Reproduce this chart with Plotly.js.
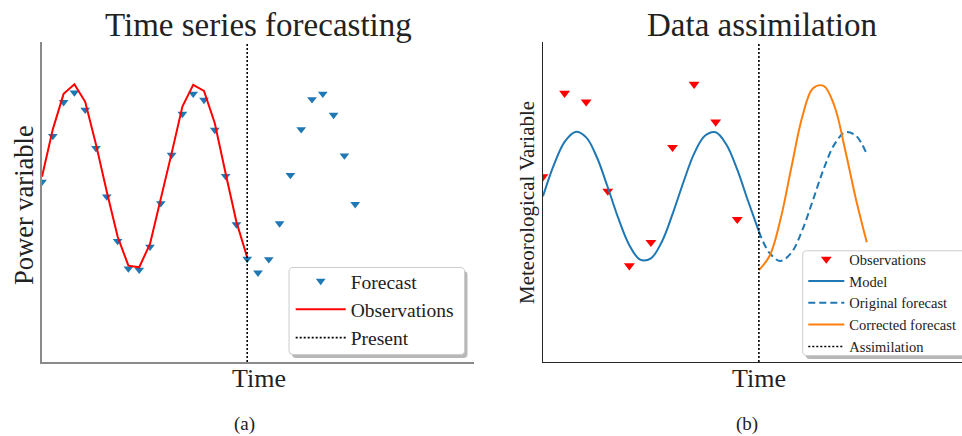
<!DOCTYPE html>
<html>
<head>
<meta charset="utf-8">
<script src="https://cdn.plot.ly/plotly-3.0.1.min.js"></script>
<style>
  html, body { margin: 0; padding: 0; background: #ffffff; overflow: hidden; }
  #chart { width: 962px; height: 436px; }
</style>
</head>
<body>
<div id="chart"></div>
<script>
// ---------- Panel (a): Time series forecasting ----------
const forecastTime = [0, 0.5, 1, 1.5, 2, 2.5, 3, 3.5, 4, 4.5, 5, 5.5, 6, 6.5, 7, 7.5, 8, 8.5, 9, 9.5,
                      10, 10.5, 11, 11.5, 12, 12.5, 13, 13.5, 14, 14.5];
const forecastValues = [5.63, 7.06, 8.12, 8.42, 7.88, 6.68, 5.17, 3.78, 2.92, 2.88,
                        3.60, 4.96, 6.47, 7.75, 8.38, 8.19, 7.25, 5.81, 4.30, 3.22,
                        2.79, 3.21, 4.33, 5.84, 7.27, 8.21, 8.38, 7.72, 6.45, 4.93];
const observationTime = [0, 0.5, 1, 1.5, 2, 2.5, 3, 3.5, 4, 4.5, 5, 5.5, 6, 6.5, 7, 7.5, 8, 8.5, 9, 9.5];
const observationValues = [5.79, 7.27, 8.38, 8.68, 8.13, 6.80, 5.32, 3.92, 3.01, 2.96,
                           3.69, 5.06, 6.52, 7.98, 8.66, 8.47, 7.46, 5.90, 4.38, 3.27];
const presentTime = 9.5;

// ---------- Panel (b): Data assimilation ----------
const metObsTime = [0, 1, 2, 3, 4, 5, 6, 7, 8, 9];
const metObsValues = [5.79, 8.40, 8.13, 5.34, 3.01, 3.74, 6.71, 8.68, 7.50, 4.46];
const modelTime = [0, 0.5, 1, 1.5, 2, 2.5, 3, 3.5, 4, 4.5, 5, 5.5, 6, 6.5, 7, 7.5, 8, 8.5, 9, 9.5, 10];
const modelValues = [5.18, 6.15, 6.88, 7.19, 7.02, 6.39, 5.46, 4.47, 3.65, 3.20, 3.24,
                     3.75, 4.62, 5.61, 6.51, 7.07, 7.18, 6.79, 6.01, 5.03, 4.08];
const forecastRightTime = [10, 10.5, 11, 11.5, 12, 12.5, 13, 13.5, 14, 14.5, 15];
const originalForecast = [4.08, 3.40, 3.16, 3.41, 4.10, 5.05, 6.03, 6.80, 7.18, 7.07, 6.49];
const correctedForecast = [2.87, 3.32, 4.45, 6.06, 7.63, 8.55, 8.63, 8.00, 6.62, 5.08, 3.74];
const assimilationTime = 10;

const yRange = [0, 10];
const leftXRange = [0, 20];
const rightXRange = [0, 19.41];

// ---------- styling ----------
const FONT = 'Liberation Serif, Times New Roman, serif';
const TXT = '#222222';
const BLUE = '#1f77b4';
const ORANGE = '#ff7f0e';
const W = 962, H = 436;
const px = v => v / W;
const py = v => 1 - v / H;
const DOT = '2px,2px';

const traces = [
  { x: forecastTime, y: forecastValues, type: 'scatter', mode: 'markers', name: 'Forecast',
    marker: { symbol: 'triangle-down', size: 8.5, color: BLUE }, xaxis: 'x', yaxis: 'y', legend: 'legend' },
  { x: observationTime, y: observationValues, type: 'scatter', mode: 'lines', name: 'Observations',
    line: { color: '#ff0000', width: 2 }, xaxis: 'x', yaxis: 'y', legend: 'legend' },
  { x: [presentTime, presentTime], y: yRange, type: 'scatter', mode: 'lines', name: 'Present',
    line: { color: '#000000', width: 1.6, dash: DOT }, xaxis: 'x', yaxis: 'y', legend: 'legend' },

  { x: metObsTime, y: metObsValues, type: 'scatter', mode: 'markers', name: 'Observations',
    marker: { symbol: 'triangle-down', size: 9.5, color: '#ff0000' }, xaxis: 'x2', yaxis: 'y2', legend: 'legend2' },
  { x: modelTime, y: modelValues, type: 'scatter', mode: 'lines', name: 'Model',
    line: { color: BLUE, width: 2, shape: 'spline', smoothing: 1 }, xaxis: 'x2', yaxis: 'y2', legend: 'legend2' },
  { x: forecastRightTime, y: originalForecast, type: 'scatter', mode: 'lines', name: 'Original forecast',
    line: { color: BLUE, width: 2, dash: '7px,4px', shape: 'spline', smoothing: 1 }, xaxis: 'x2', yaxis: 'y2', legend: 'legend2' },
  { x: forecastRightTime, y: correctedForecast, type: 'scatter', mode: 'lines', name: 'Corrected forecast',
    line: { color: ORANGE, width: 2, shape: 'spline', smoothing: 1 }, xaxis: 'x2', yaxis: 'y2', legend: 'legend2' },
  { x: [assimilationTime, assimilationTime], y: yRange, type: 'scatter', mode: 'lines', name: 'Assimilation',
    line: { color: '#000000', width: 1.6, dash: DOT }, xaxis: 'x2', yaxis: 'y2', legend: 'legend2' }
];

function axisStyle(color, width) {
  return { showline: true, linecolor: color, linewidth: width, showgrid: false, zeroline: false,
           showticklabels: false, ticks: '', fixedrange: true };
}

function roundRect(x0, y0, x1, y1, r) {
  const X = v => px(v).toFixed(5), Y = v => py(v).toFixed(5);
  return 'M' + X(x0 + r) + ',' + Y(y0) + ' L' + X(x1 - r) + ',' + Y(y0) +
         ' Q' + X(x1) + ',' + Y(y0) + ' ' + X(x1) + ',' + Y(y0 + r) +
         ' L' + X(x1) + ',' + Y(y1 - r) +
         ' Q' + X(x1) + ',' + Y(y1) + ' ' + X(x1 - r) + ',' + Y(y1) +
         ' L' + X(x0 + r) + ',' + Y(y1) +
         ' Q' + X(x0) + ',' + Y(y1) + ' ' + X(x0) + ',' + Y(y1 - r) +
         ' L' + X(x0) + ',' + Y(y0 + r) +
         ' Q' + X(x0) + ',' + Y(y0) + ' ' + X(x0 + r) + ',' + Y(y0) + ' Z';
}

const legendBoxes = [
  { box: [289, 267.5, 464.5, 354.5] },
  { box: [802.7, 250.8, 1010, 355.5] }
];
const shapes = [];
legendBoxes.forEach(b => {
  const [x0, y0, x1, y1] = b.box;
  shapes.push({ type: 'path', xref: 'paper', yref: 'paper', layer: 'above',
                path: roundRect(x0 + 3, y0 + 3.5, x1 + 3, y1 + 3.5, 4),
                fillcolor: 'rgba(0,0,0,0.28)', line: { width: 0 } });
  shapes.push({ type: 'path', xref: 'paper', yref: 'paper', layer: 'above',
                path: roundRect(x0, y0, x1, y1, 4),
                fillcolor: '#ffffff', line: { color: '#cccccc', width: 1 } });
});

const annotations = [
  { text: 'Time series forecasting', x: px(258), y: py(24.9), font: { size: 33 } },
  { text: 'Data assimilation', x: px(761.5), y: py(24.9), font: { size: 33 } },
  { text: 'Time', x: px(258.5), y: py(378.4), font: { size: 26 } },
  { text: 'Time', x: px(759), y: py(378.4), font: { size: 26 } },
  { text: 'Power variable', x: px(24), y: py(205), textangle: -90, font: { size: 26.5 } },
  { text: 'Meteorological Variable', x: px(527.5), y: py(202.5), textangle: -90, font: { size: 21 } },
  { text: '(a)', x: px(244.5), y: py(424), font: { size: 19 } },
  { text: '(b)', x: px(746.7), y: py(424), font: { size: 19 } }
].map(a => Object.assign({ xref: 'paper', yref: 'paper', xanchor: 'center', yanchor: 'middle',
                           showarrow: false }, a, { font: Object.assign({ family: FONT, color: TXT }, a.font) }));

const layout = {
  width: W, height: H,
  margin: { l: 0, r: 0, t: 0, b: 0, pad: 0 },
  paper_bgcolor: '#ffffff', plot_bgcolor: '#ffffff',
  font: { family: FONT, color: TXT },
  showlegend: true,
  xaxis: Object.assign(axisStyle('#8a8a8a', 1.6), { domain: [px(42), px(474)], range: leftXRange, anchor: 'y' }),
  yaxis: Object.assign(axisStyle('#8a8a8a', 1.6), { domain: [py(362), py(42)], range: yRange, anchor: 'x' }),
  xaxis2: Object.assign(axisStyle('#262626', 1.4), { domain: [px(543), 1], range: rightXRange, anchor: 'y2' }),
  yaxis2: Object.assign(axisStyle('#262626', 1.4), { domain: [py(362), py(42)], range: yRange, anchor: 'x2' }),
  legend: { x: px(290.7), y: py(261.8), xanchor: 'left', yanchor: 'top', bgcolor: 'rgba(0,0,0,0)',
            borderwidth: 0, itemwidth: 50, font: { family: FONT, size: 19.5, color: TXT } },
  legend2: { x: px(803.3), y: py(243.1), xanchor: 'left', yanchor: 'top', bgcolor: 'rgba(0,0,0,0)',
             borderwidth: 0, itemwidth: 36, font: { family: FONT, size: 14.5, color: TXT } },
  shapes: shapes,
  annotations: annotations
};

Plotly.newPlot('chart', traces, layout, { staticPlot: true, displayModeBar: false });
</script>
</body>
</html>
